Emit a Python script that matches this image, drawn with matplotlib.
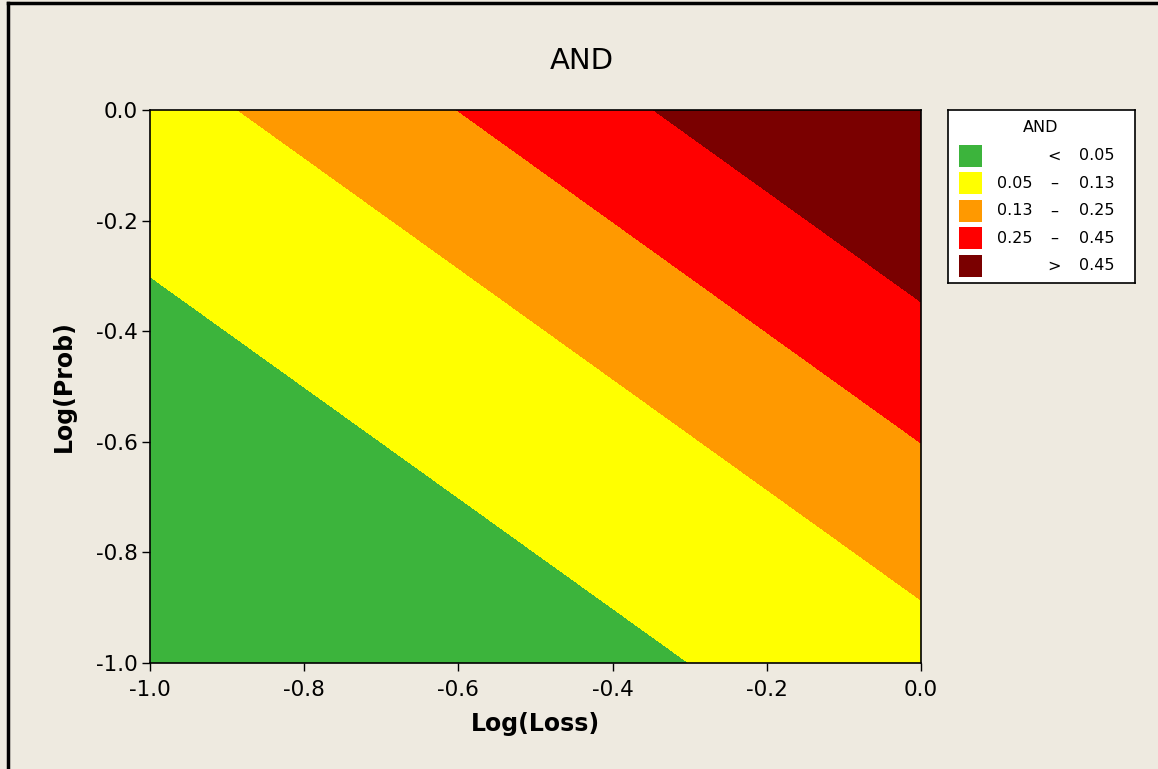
import matplotlib
matplotlib.use("Agg")
import matplotlib.pyplot as plt
from matplotlib.lines import Line2D
from matplotlib.patches import Rectangle
import numpy as np

# contour class limits and colours (Minitab style)
levels = [0.0, 0.05, 0.13, 0.25, 0.45, 1.0]
colors = ['#3cb43c', '#ffff00', '#ff9900', '#ff0000', '#7a0000']
legend_left = ['', '0.05', '0.13', '0.25', '']
legend_mid = ['<', '\u2013', '\u2013', '\u2013', '>']
legend_right = ['0.05', '0.13', '0.25', '0.45', '0.45']
ticks = [-1.0, -0.8, -0.6, -0.4, -0.2, 0.0]

# grid of Log(Loss), Log(Prob); AND = Loss * Prob
log_loss = np.linspace(-1, 0, 400)
log_prob = np.linspace(-1, 0, 400)
X, Y = np.meshgrid(log_loss, log_prob)
Z = 10**X * 10**Y

bg = '#eeeae0'
fig = plt.figure(figsize=(11.58, 7.69), dpi=100, facecolor=bg)
ax = fig.add_axes([0.1295, 0.1378, 0.6658, 0.7192])
ax.contourf(X, Y, Z, levels=levels, colors=colors)
ax.set_xlim(-1, 0)
ax.set_ylim(-1, 0)
ax.set_xticks(ticks)
ax.set_yticks(ticks)
ax.set_xticklabels(['%.1f' % t for t in ticks])
ax.set_yticklabels(['%.1f' % t for t in ticks])
ax.tick_params(direction='out', length=6, width=1, labelsize=15.5, colors='black', pad=3)
ax.tick_params(axis='x', pad=6)
for s in ax.spines.values():
    s.set_linewidth(1.2)
ax.set_xlabel('Log(Loss)', fontsize=17, fontweight='bold', labelpad=9)
ax.set_ylabel('Log(Prob)', fontsize=17, fontweight='bold', labelpad=14)
fig.text(0.5026, 0.921, 'AND', ha='center', va='center', fontsize=21)

# legend box drawn by hand
lax = fig.add_axes([0.8187, 0.632, 0.1613, 0.225])
lax.set_xlim(0, 187)
lax.set_ylim(173, 0)
lax.set_xticks([])
lax.set_yticks([])
lax.set_facecolor('white')
for s in lax.spines.values():
    s.set_linewidth(1.2)
lax.text(93, 18, 'AND', ha='center', va='center', fontsize=11.5)
for i in range(len(colors)):
    yc = 46 + i * 27.5
    lax.add_patch(Rectangle((11, yc - 11), 23, 22, facecolor=colors[i], edgecolor='none'))
    lax.text(85, yc, legend_left[i], ha='right', va='center', fontsize=11.5)
    lax.text(106, yc, legend_mid[i], ha='center', va='center', fontsize=11.5)
    lax.text(167, yc, legend_right[i], ha='right', va='center', fontsize=11.5)

# dark frame on left and top edges
fig.add_artist(Line2D([0.0065, 0.0065], [0, 0.996], transform=fig.transFigure, color='black', lw=2.5))
fig.add_artist(Line2D([0.0065, 1.0], [0.996, 0.996], transform=fig.transFigure, color='black', lw=2.5))

fig.savefig('out.png', dpi=100, facecolor=bg)
